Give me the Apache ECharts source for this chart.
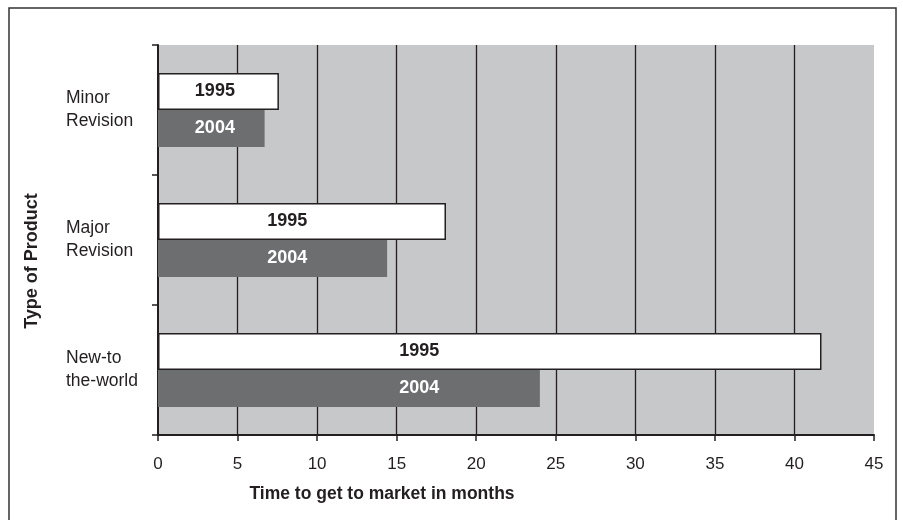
<!DOCTYPE html>
<html>
<head>
<meta charset="utf-8">
<script src="https://cdn.jsdelivr.net/npm/echarts@6/dist/echarts.min.js"></script>
<style>
  html, body { margin: 0; padding: 0; background: #ffffff; }
  #chart { width: 903px; height: 520px; }
</style>
</head>
<body>
<div id="chart"></div>
<script>
// Product types (top to bottom)
const categories = ['Minor\nRevision', 'Major\nRevision', 'New-to\nthe-world'];
// Months to get to market
const values1995 = [7.6, 18.1, 41.7];
const values2004 = [6.7, 14.4, 24.0];
const xTicks = { min: 0, max: 45, interval: 5 };

const FONT = '"Liberation Sans", Arial, Helvetica, sans-serif';
const INK = '#231f20';

const chart = echarts.init(document.getElementById('chart'), null, { renderer: 'canvas' });

function barLabel(color) {
  return {
    show: true,
    formatter: p => p.seriesName,
    color: color,
    fontFamily: FONT,
    fontWeight: 'bold',
    fontSize: 18,
    align: 'center',
    verticalAlign: 'middle'
  };
}

const option = {
  animation: false,
  backgroundColor: '#ffffff',
  grid: {
    left: 158, top: 45, right: 29, bottom: 85,
    show: true, backgroundColor: '#c7c8ca', borderWidth: 0
  },
  xAxis: {
    type: 'value',
    min: xTicks.min, max: xTicks.max, interval: xTicks.interval,
    axisLine: { show: true, lineStyle: { color: INK, width: 2 } },
    axisTick: { show: true, length: 6, lineStyle: { color: INK, width: 1.5 } },
    axisLabel: { fontFamily: FONT, fontSize: 17, color: INK, margin: 21 },
    splitLine: { show: true, showMinLine: false, showMaxLine: false, lineStyle: { color: INK, width: 1.3 } }
  },
  yAxis: {
    type: 'category',
    inverse: true,
    data: categories,
    axisLine: { show: true, lineStyle: { color: INK, width: 2 } },
    axisTick: { show: true, length: 6, lineStyle: { color: INK, width: 1.5 } },
    axisLabel: {
      fontFamily: FONT, fontSize: 17.5, color: INK, lineHeight: 23,
      align: 'left', margin: 92
    },
    splitLine: { show: false }
  },
  graphic: [
    {
      type: 'rect',
      shape: { x: 9, y: 8, width: 887, height: 530 },
      style: { fill: 'none', stroke: '#333333', lineWidth: 1.5 },
      silent: true
    },
    {
      type: 'text',
      x: 32, y: 261,
      rotation: Math.PI / 2,
      style: {
        text: 'Type of Product',
        font: 'bold 18px ' + FONT,
        fill: INK,
        align: 'center',
        verticalAlign: 'middle'
      }
    },
    {
      type: 'text',
      x: 382, y: 494,
      style: {
        text: 'Time to get to market in months',
        font: 'bold 17.5px ' + FONT,
        fill: INK,
        align: 'center',
        verticalAlign: 'middle'
      }
    }
  ],
  series: [
    {
      name: '1995',
      type: 'bar',
      data: values1995,
      barWidth: 37,
      barGap: '0%',
      itemStyle: { color: '#ffffff', borderColor: INK, borderWidth: 1.5 },
      label: barLabel(INK)
    },
    {
      name: '2004',
      type: 'bar',
      data: values2004,
      barWidth: 37,
      barGap: '0%',
      itemStyle: { color: '#6d6e70' },
      label: barLabel('#ffffff')
    }
  ]
};

chart.setOption(option);

// Both year labels of a product sit together, midway between the two bar centres
const px0 = chart.convertToPixel({ xAxisIndex: 0 }, 0);
const pxPerUnit = chart.convertToPixel({ xAxisIndex: 0 }, 1) - px0;
function withLabelPos(values) {
  return values.map((v, i) => ({
    value: v,
    label: { position: [((values1995[i] + values2004[i]) / 4) * pxPerUnit, '50%'] }
  }));
}
chart.setOption({
  series: [
    { name: '1995', data: withLabelPos(values1995) },
    { name: '2004', data: withLabelPos(values2004) }
  ]
});
</script>
</body>
</html>
